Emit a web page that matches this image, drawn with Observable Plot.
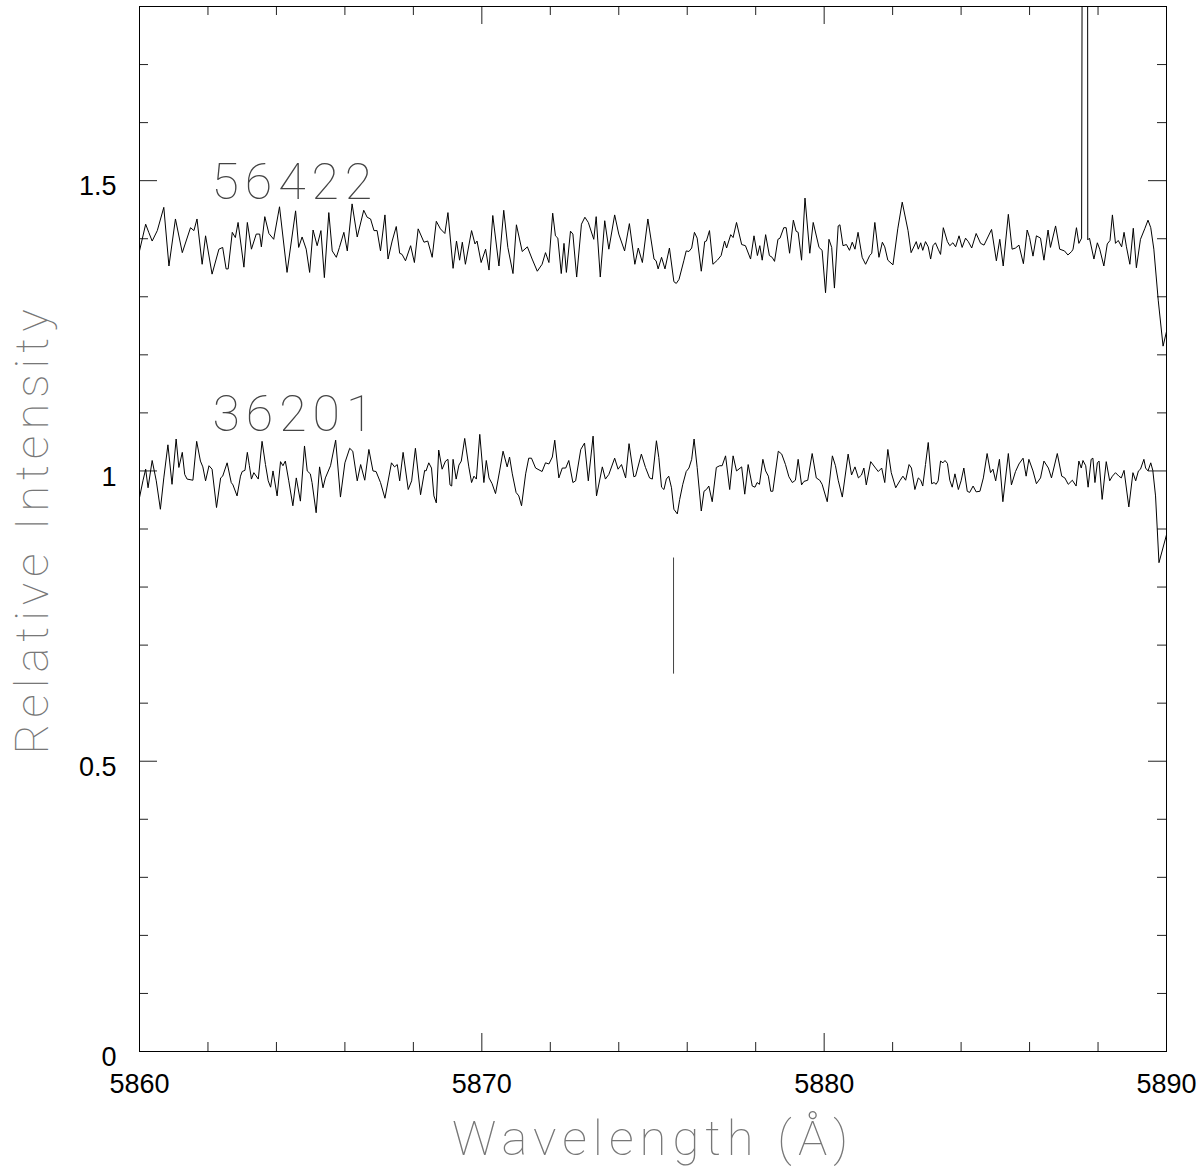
<!DOCTYPE html>
<html>
<head>
<meta charset="utf-8">
<script src="https://cdn.jsdelivr.net/npm/d3@7"></script>
<script src="https://cdn.jsdelivr.net/npm/@observablehq/plot@0.6"></script>
<style>
  html, body { margin: 0; padding: 0; background: #fff; }
  #chart { width: 1200px; height: 1170px; }
</style>
</head>
<body>
<div id="chart"></div>
<script>
const xMajor = [5860, 5870, 5880, 5890];
const xMinor = [5862, 5864, 5866, 5868, 5872, 5874, 5876, 5878, 5882, 5884, 5886, 5888];
const yMajor = [0, 0.5, 1, 1.5];
const yMinor = [0.1, 0.2, 0.3, 0.4, 0.6, 0.7, 0.8, 0.9, 1.1, 1.2, 1.3, 1.4, 1.6, 1.7];
const xTitle = ["Wavelength (Å)"];
const yTitle = ["Relative Intensity"];
const seriesLabels = [
  {name: "56422", x: 5862.1, y: 1.469},
  {name: "36201", x: 5862.13, y: 1.069}
];
const markerLine = [{x: 5875.6, y1: 0.65, y2: 0.85}];

const spec56422 = [
[5860.00,1.379],[5860.18,1.425],[5860.27,1.411],[5860.37,1.396],[5860.52,1.414],[5860.71,1.454],[5860.86,1.353],[5861.05,1.434],[5861.25,1.376],[5861.49,1.419],[5861.59,1.414],[5861.68,1.434],[5861.83,1.356],[5861.93,1.405],[5862.12,1.339],[5862.32,1.382],[5862.43,1.385],[5862.53,1.348],[5862.59,1.348],[5862.71,1.411],[5862.80,1.402],[5862.88,1.428],[5863.05,1.351],[5863.15,1.428],[5863.27,1.382],[5863.41,1.408],[5863.51,1.408],[5863.56,1.386],[5863.66,1.438],[5863.78,1.409],[5863.92,1.399],[5864.09,1.455],[5864.31,1.342],[5864.56,1.448],[5864.65,1.385],[5864.75,1.403],[5864.87,1.382],[5864.97,1.342],[5865.07,1.415],[5865.19,1.388],[5865.30,1.414],[5865.40,1.333],[5865.53,1.445],[5865.63,1.379],[5865.75,1.368],[5865.84,1.385],[5865.97,1.411],[5866.07,1.379],[5866.21,1.460],[5866.36,1.403],[5866.55,1.449],[5866.65,1.437],[5866.75,1.434],[5866.85,1.414],[5866.94,1.414],[5867.04,1.379],[5867.17,1.441],[5867.26,1.365],[5867.38,1.396],[5867.50,1.421],
[5867.60,1.375],[5867.67,1.373],[5867.77,1.362],[5867.92,1.388],[5868.03,1.359],[5868.14,1.417],[5868.31,1.394],[5868.42,1.396],[5868.55,1.368],[5868.67,1.430],[5868.79,1.417],[5868.92,1.409],[5869.01,1.445],[5869.16,1.349],[5869.26,1.396],[5869.35,1.363],[5869.43,1.394],[5869.52,1.356],[5869.70,1.414],[5869.80,1.391],[5869.86,1.396],[5869.98,1.359],[5870.11,1.382],[5870.21,1.346],[5870.32,1.440],[5870.50,1.353],[5870.64,1.449],[5870.76,1.385],[5870.91,1.340],[5871.01,1.424],[5871.18,1.378],[5871.33,1.386],[5871.47,1.365],[5871.62,1.344],[5871.76,1.356],[5871.86,1.376],[5871.96,1.359],[5872.07,1.444],[5872.15,1.405],[5872.22,1.401],[5872.32,1.340],[5872.40,1.392],[5872.47,1.342],[5872.59,1.413],[5872.66,1.408],[5872.77,1.334],[5872.91,1.425],[5873.01,1.437],[5873.11,1.428],[5873.27,1.399],[5873.34,1.438],[5873.46,1.334],[5873.59,1.431],[5873.71,1.382],[5873.88,1.441],[5874.00,1.408],[5874.17,1.379],[5874.31,1.426],[5874.47,1.356],[5874.57,1.384],[5874.69,1.359],[5874.85,1.434],[5875.03,1.365],[5875.09,1.362],
[5875.15,1.348],[5875.25,1.368],[5875.35,1.348],[5875.48,1.384],[5875.61,1.326],[5875.68,1.323],[5875.76,1.330],[5875.90,1.362],[5875.97,1.379],[5876.05,1.378],[5876.13,1.384],[5876.21,1.411],[5876.29,1.401],[5876.41,1.344],[5876.51,1.395],[5876.56,1.396],[5876.65,1.414],[5876.75,1.356],[5876.88,1.363],[5876.99,1.371],[5877.09,1.396],[5877.15,1.384],[5877.27,1.407],[5877.34,1.402],[5877.44,1.428],[5877.59,1.390],[5877.70,1.388],[5877.85,1.365],[5877.95,1.405],[5878.05,1.371],[5878.12,1.388],[5878.19,1.363],[5878.29,1.407],[5878.40,1.371],[5878.48,1.368],[5878.55,1.361],[5878.65,1.399],[5878.71,1.401],[5878.82,1.419],[5878.89,1.419],[5878.99,1.375],[5879.10,1.432],[5879.18,1.413],[5879.24,1.411],[5879.34,1.363],[5879.44,1.470],[5879.58,1.375],[5879.68,1.428],[5879.85,1.385],[5879.94,1.380],[5880.04,1.307],[5880.14,1.399],[5880.22,1.385],[5880.30,1.315],[5880.41,1.422],[5880.46,1.424],[5880.55,1.388],[5880.65,1.390],[5880.74,1.380],[5880.82,1.394],[5880.90,1.382],[5880.99,1.411],[5881.11,1.368],[5881.21,1.356],[5881.33,1.371],[5881.39,1.375],[5881.48,1.428],[5881.60,1.368],[5881.70,1.394],[5881.77,1.386],[5881.86,1.363],[5882.01,1.355],[5882.15,1.417],[5882.28,1.463],[5882.45,1.414],[5882.54,1.376],[5882.69,1.395],
[5882.75,1.382],[5882.82,1.393],[5882.88,1.380],[5882.96,1.395],[5883.04,1.386],[5883.11,1.365],[5883.18,1.388],[5883.25,1.393],[5883.33,1.382],[5883.40,1.373],[5883.48,1.419],[5883.60,1.395],[5883.67,1.388],[5883.76,1.393],[5883.84,1.386],[5883.94,1.405],[5884.03,1.385],[5884.13,1.401],[5884.21,1.395],[5884.31,1.384],[5884.44,1.409],[5884.57,1.392],[5884.67,1.389],[5884.89,1.416],[5885.03,1.362],[5885.13,1.399],[5885.23,1.353],[5885.38,1.442],[5885.49,1.382],[5885.59,1.384],[5885.69,1.389],[5885.82,1.357],[5885.93,1.415],[5886.00,1.402],[5886.10,1.370],[5886.20,1.405],[5886.32,1.401],[5886.42,1.363],[5886.54,1.415],[5886.61,1.385],[5886.76,1.422],[5886.88,1.382],[5887.02,1.379],[5887.12,1.372],[5887.23,1.378],[5887.27,1.382],[5887.37,1.419],[5887.44,1.392],[5887.52,1.401],[5887.56,2.600],[5887.69,2.600],[5887.70,1.398],[5887.75,1.401],[5887.88,1.365],[5887.98,1.393],[5888.05,1.382],[5888.17,1.353],[5888.27,1.391],[5888.35,1.397],[5888.42,1.441],[5888.51,1.392],[5888.59,1.397],[5888.69,1.386],[5888.76,1.411],[5888.83,1.386],[5888.93,1.356],[5889.03,1.418],[5889.12,1.350],[5889.24,1.399],[5889.37,1.418],[5889.46,1.432],[5889.54,1.419],[5889.63,1.382],[5889.76,1.293],[5889.90,1.215],[5890.00,1.240]
];

const spec36201 = [
[5860.00,0.954],[5860.10,0.983],[5860.18,1.003],[5860.25,0.971],[5860.37,1.018],[5860.49,0.983],[5860.61,0.934],[5860.71,0.988],[5860.83,1.045],[5860.95,0.977],[5861.07,1.055],[5861.15,1.006],[5861.25,1.032],[5861.32,0.994],[5861.39,0.986],[5861.56,0.984],[5861.67,1.051],[5861.78,1.017],[5861.85,1.007],[5861.93,0.983],[5862.03,1.009],[5862.12,1.003],[5862.25,0.937],[5862.37,0.988],[5862.43,0.991],[5862.56,1.014],[5862.68,0.980],[5862.73,0.976],[5862.85,0.957],[5862.95,0.991],[5863.00,0.999],[5863.08,1.001],[5863.15,1.032],[5863.21,1.009],[5863.27,0.986],[5863.34,0.997],[5863.47,0.986],[5863.58,1.051],[5863.68,1.011],[5863.76,0.983],[5863.83,0.972],[5863.90,1.000],[5864.02,0.957],[5864.12,1.016],[5864.19,1.009],[5864.26,1.017],[5864.36,0.983],[5864.48,0.940],[5864.58,0.988],[5864.70,0.948],[5864.82,1.043],[5864.90,1.000],[5864.99,0.995],[5865.04,0.980],[5865.16,0.928],[5865.26,1.007],[5865.36,0.971],[5865.43,0.988],[5865.58,1.009],[5865.73,1.053],[5865.87,0.955],[5866.00,1.014],[5866.14,1.039],[5866.23,1.034],[5866.36,0.983],[5866.46,1.011],[5866.58,0.984],[5866.70,1.037],[5866.82,1.000],[5866.91,0.999],[5867.04,0.980],[5867.17,0.953],[5867.36,1.014],[5867.45,1.007],[5867.53,1.011],
[5867.60,0.983],[5867.70,1.032],[5867.85,0.968],[5867.95,0.983],[5868.06,1.039],[5868.21,0.959],[5868.33,1.001],[5868.37,1.000],[5868.45,1.014],[5868.53,1.005],[5868.60,0.957],[5868.67,0.945],[5868.74,1.036],[5868.84,1.003],[5868.94,1.017],[5869.01,1.020],[5869.07,0.976],[5869.12,0.974],[5869.16,1.020],[5869.25,0.986],[5869.33,1.010],[5869.40,1.017],[5869.50,1.056],[5869.62,1.007],[5869.70,0.980],[5869.77,0.991],[5869.84,0.986],[5869.94,1.063],[5870.06,0.980],[5870.13,1.018],[5870.21,0.988],[5870.30,0.978],[5870.40,0.961],[5870.52,1.000],[5870.62,1.034],[5870.74,1.007],[5870.81,1.024],[5870.89,0.995],[5871.00,0.963],[5871.08,0.957],[5871.16,0.940],[5871.28,0.995],[5871.37,1.022],[5871.45,1.022],[5871.57,1.005],[5871.76,0.999],[5871.86,1.014],[5871.96,1.012],[5872.06,1.024],[5872.13,1.053],[5872.25,0.988],[5872.35,1.005],[5872.45,1.005],[5872.54,1.018],[5872.66,0.980],[5872.74,0.983],[5872.89,1.037],[5873.00,1.048],[5873.11,0.983],[5873.25,1.060],[5873.35,0.957],[5873.52,1.007],[5873.61,0.986],[5873.71,0.994],[5873.88,1.022],[5873.98,1.003],[5874.08,1.011],[5874.20,0.988],[5874.30,1.047],[5874.44,0.990],[5874.49,0.991],[5874.66,1.029],[5874.78,1.006],[5874.90,0.988],[5874.98,0.986],[5875.10,1.052],
[5875.17,1.023],[5875.25,0.972],[5875.32,0.968],[5875.39,0.986],[5875.46,0.991],[5875.54,0.971],[5875.61,0.934],[5875.71,0.926],[5875.78,0.951],[5875.87,0.977],[5875.97,0.999],[5876.05,1.005],[5876.13,1.020],[5876.20,1.055],[5876.29,1.006],[5876.41,0.931],[5876.49,0.965],[5876.56,0.968],[5876.63,0.974],[5876.73,0.947],[5876.85,1.006],[5876.95,1.009],[5877.02,1.009],[5877.12,1.026],[5877.24,0.968],[5877.34,1.026],[5877.44,1.000],[5877.59,1.007],[5877.68,0.960],[5877.78,1.011],[5877.90,0.974],[5877.98,0.972],[5878.04,0.980],[5878.11,0.977],[5878.21,1.020],[5878.29,1.000],[5878.37,0.991],[5878.44,0.965],[5878.50,0.965],[5878.66,1.034],[5878.76,1.029],[5878.87,1.011],[5878.97,0.990],[5879.07,0.980],[5879.16,0.984],[5879.24,1.020],[5879.34,0.976],[5879.41,0.982],[5879.52,0.984],[5879.65,1.030],[5879.77,0.988],[5879.87,0.984],[5879.94,0.977],[5880.09,0.947],[5880.24,1.026],[5880.33,1.009],[5880.41,0.984],[5880.53,0.955],[5880.70,1.029],[5880.80,0.993],[5880.90,1.007],[5881.00,0.988],[5881.09,0.993],[5881.16,1.005],[5881.23,0.976],[5881.36,1.016],[5881.50,1.005],[5881.58,0.999],[5881.68,1.005],[5881.77,0.980],[5881.86,1.037],[5881.96,0.997],[5882.09,0.971],[5882.21,0.983],[5882.30,0.991],[5882.38,0.984],[5882.48,1.011],[5882.55,1.005],[5882.65,0.968],
[5882.75,0.988],[5882.82,0.984],[5882.88,0.974],[5882.96,1.011],[5883.04,1.049],[5883.14,0.978],[5883.21,0.980],[5883.27,0.977],[5883.33,0.983],[5883.40,1.017],[5883.47,1.014],[5883.53,1.018],[5883.60,1.013],[5883.67,0.984],[5883.74,0.972],[5883.82,0.995],[5883.92,0.968],[5884.00,0.983],[5884.08,1.005],[5884.18,0.965],[5884.25,0.963],[5884.35,0.974],[5884.44,0.964],[5884.55,0.965],[5884.65,0.988],[5884.76,1.030],[5884.86,0.997],[5884.93,1.003],[5885.01,0.983],[5885.12,1.020],[5885.22,0.947],[5885.38,1.030],[5885.47,0.976],[5885.59,0.999],[5885.69,1.012],[5885.81,1.022],[5885.90,0.991],[5885.98,1.020],[5886.10,1.000],[5886.20,0.978],[5886.32,0.988],[5886.42,1.017],[5886.55,1.005],[5886.64,0.988],[5886.81,1.030],[5886.94,0.991],[5887.03,0.988],[5887.13,0.977],[5887.25,0.984],[5887.36,0.974],[5887.44,1.017],[5887.51,1.005],[5887.56,1.018],[5887.64,1.009],[5887.71,0.972],[5887.80,1.020],[5887.85,1.022],[5887.91,0.980],[5887.98,1.014],[5888.03,1.017],[5888.12,0.951],[5888.24,1.016],[5888.34,0.983],[5888.42,0.991],[5888.51,0.997],[5888.61,0.991],[5888.68,0.988],[5888.76,1.001],[5888.90,0.938],[5889.02,0.997],[5889.10,0.983],[5889.18,1.000],[5889.24,1.003],[5889.34,1.020],[5889.39,1.005],[5889.46,1.000],[5889.54,1.014],[5889.60,1.001],[5889.68,0.957],[5889.78,0.842],[5890.00,0.890]
];

const W = 1200, H = 1170;
const mL = 139, mR = 34, mT = 6, mB = 119;
const fw = W - mL - mR, fh = H - mT - mB;
const majorLen = 18, minorLen = 9;
const thinFont = "Roboto, 'Noto Sans', sans-serif";

const chart = Plot.plot({
  width: W, height: H,
  marginLeft: mL, marginRight: mR, marginTop: mT, marginBottom: mB,
  x: {domain: [5860, 5890]},
  y: {domain: [0, 1.8]},
  style: {fontFamily: "'Liberation Sans', Arial, sans-serif", fontSize: "27px", color: "#000", background: "#fff"},
  marks: [
    Plot.axisX({ticks: xMajor, tickSize: 0, tickPadding: 22, tickFormat: d => String(d), label: null, fontSize: 27}),
    Plot.axisY({ticks: yMajor, tickSize: 0, tickPadding: 23, dy: 6, tickFormat: d => String(d), label: null, fontSize: 27}),
    // inward ticks, bottom & top
    Plot.ruleX(xMajor, {insetTop: fh - majorLen, stroke: "#222"}),
    Plot.ruleX(xMajor, {insetBottom: fh - majorLen, stroke: "#222"}),
    Plot.ruleX(xMinor, {insetTop: fh - minorLen, stroke: "#222"}),
    Plot.ruleX(xMinor, {insetBottom: fh - minorLen, stroke: "#222"}),
    // inward ticks, left & right
    Plot.ruleY(yMajor, {insetRight: fw - majorLen, stroke: "#222"}),
    Plot.ruleY(yMajor, {insetLeft: fw - majorLen, stroke: "#222"}),
    Plot.ruleY(yMinor, {insetRight: fw - minorLen, stroke: "#222"}),
    Plot.ruleY(yMinor, {insetLeft: fw - minorLen, stroke: "#222"}),
    Plot.line(spec56422, {x: d => d[0], y: d => d[1], stroke: "#000", strokeWidth: 1, clip: true}),
    Plot.line(spec36201, {x: d => d[0], y: d => d[1], stroke: "#000", strokeWidth: 1, clip: true}),
    Plot.ruleX(markerLine, {x: "x", y1: "y1", y2: "y2", stroke: "#444", strokeWidth: 1}),
    Plot.text(seriesLabels, {x: "x", y: "y", text: "name", textAnchor: "start", lineAnchor: "bottom",
      fontSize: 50, fontFamily: thinFont, fontWeight: 100, fill: "#444"}),
    Plot.text(xTitle, {text: d => d, frameAnchor: "bottom", lineAnchor: "bottom", dy: 103,
      fontSize: 49, fontFamily: thinFont, fontWeight: 100, fill: "#777"}),
    Plot.text(yTitle, {text: d => d, frameAnchor: "left", rotate: -90, lineAnchor: "bottom", textAnchor: "middle", dx: -92,
      fontSize: 47, fontFamily: thinFont, fontWeight: 100, fill: "#777"}),
    Plot.frame({stroke: "#000", strokeWidth: 1})
  ]
});

// Hershey-like wide spacing for the thin captions
const spacing = {"50": 6, "49": 6, "47": 6};
for (const g of chart.querySelectorAll("g[font-size]")) {
  const fs = g.getAttribute("font-size");
  if (spacing[fs] !== undefined && g.getAttribute("font-weight") === "100") {
    g.setAttribute("letter-spacing", spacing[fs]);
  }
}
document.getElementById("chart").appendChild(chart);
</script>
</body>
</html>
